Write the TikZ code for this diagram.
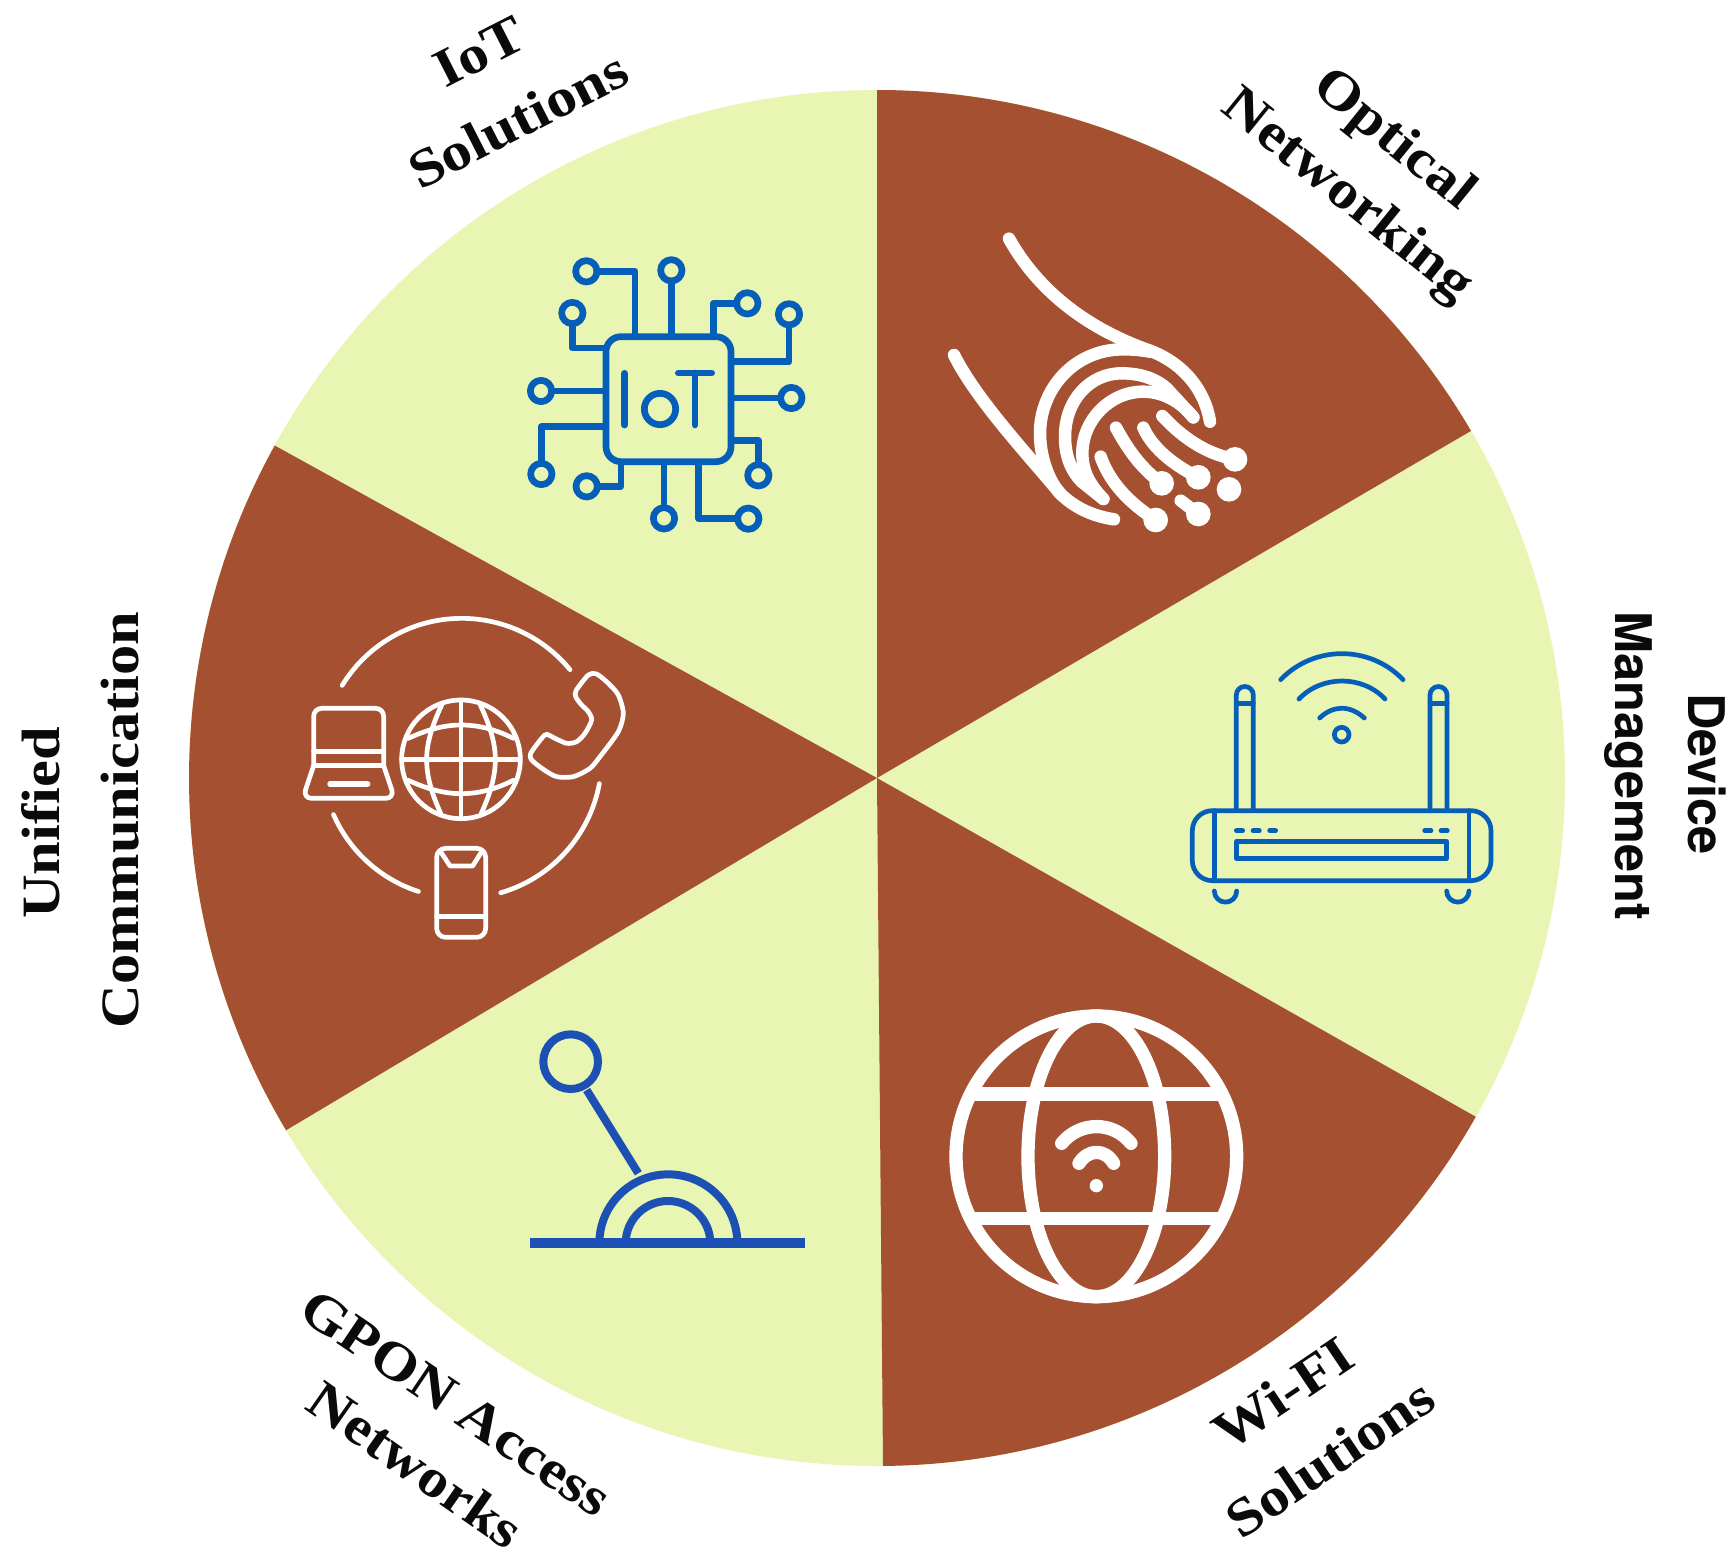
\documentclass[tikz,border=0pt]{standalone}
\usepackage{fontspec}
\newfontfamily\serifb[FakeStretch=1.12]{Liberation Serif}
\newfontfamily\sansm{TeX Gyre Heros}
\definecolor{brownw}{HTML}{A45031}
\definecolor{greenw}{HTML}{E8F5B3}
\definecolor{iconblue}{HTML}{055FB9}
\definecolor{gponblue}{HTML}{1C50B4}
\definecolor{inkb}{HTML}{0A0A0A}
\tikzset{
  lab/.style={text=inkb,inner sep=0pt,font=\serifb\bfseries\fontsize{54}{60}\selectfont},
  labsans/.style={text=inkb,inner sep=0pt,font=\sansm\bfseries\fontsize{50.5}{58}\selectfont},
  wedgeb/.style={fill=brownw,draw=none},
  ico/.style={line cap=round,line join=round},
  zoomed/.style={scale=0.33333},
}
\begin{document}
\begin{tikzpicture}[x=1pt,y=1pt,yscale=-1]
\useasboundingbox (0,0) rectangle (1735,1558);
\fill[white] (0,0) rectangle (1735,1558);
% disc
\fill[greenw] (877,778) circle[radius=688];
\fill[wedgeb] (877,778) -- ++(-90:688) arc[start angle=-90,end angle=-30.3,radius=688] -- cycle;
\fill[wedgeb] (877,778) -- ++(29.5:688) arc[start angle=29.5,end angle=89.5,radius=688] -- cycle;
\fill[wedgeb] (877,778) -- ++(149.2:688) arc[start angle=149.2,end angle=208.9,radius=688] -- cycle;
% labels
\node[lab,rotate=-39] (lopt) at (1393,141) {Optical};
\node[lab,rotate=-39] (lnet) at (1346,197) {Networking};
\node[labsans,rotate=-90] (ldev) at (1707,774) {Device};
\node[labsans,rotate=-90] (lman) at (1628,766) {Management};
\node[lab,rotate=34] (lwifi) at (1283,1393) {Wi-FI};
\node[lab,rotate=34] (lsol) at (1330,1458) {Solutions};
\node[lab,rotate=-34] (lgpon) at (456,1403) {GPON Access};
\node[lab,rotate=-35] (lnets) at (416,1465) {Networks};
\node[lab,rotate=90] (luni) at (41,823) {Unified};
\node[lab,rotate=90] (lcom) at (120,820) {Communication};
\node[lab,rotate=27] (liot) at (480,52) {IoT};
\node[lab,rotate=27] (lsol2) at (518,120) {Solutions};
% IoT icon
\begin{scope}[shift={(480,200)},zoomed,ico,draw=iconblue,line width=6.7pt]
\draw[rounded corners=15pt] (378,410) rectangle (753,785);
\foreach \x/\y in {319/214,574/211,802/310,927/343,934/594,835/826,805/956,552/955,320/859,184/822,183/573,277/339}
  \draw (\x,\y) circle[radius=32];
\draw (350,214) -- (465,214) -- (465,405);
\draw (574,243) -- (574,405);
\draw (770,310) -- (700,310) -- (700,405);
\draw (927,375) -- (927,485) -- (755,485);
\draw (902,594) -- (755,594);
\draw (835,794) -- (835,722) -- (755,722);
\draw (773,956) -- (656,956) -- (656,790);
\draw (552,923) -- (552,790);
\draw (352,859) -- (423,859) -- (423,790);
\draw (184,790) -- (184,680) -- (375,680);
\draw (215,573) -- (375,573);
\draw (277,371) -- (277,444) -- (375,444);
\draw (434,520) -- (434,675);
\draw (540,627) circle[radius=47];
\draw (595,519) -- (695,519);
\draw (645,519) -- (645,675);
\end{scope}
% fibre icon
\begin{scope}[shift={(900,200)},zoomed,ico,draw=white,line width=12.5pt]
\draw (327,116) .. controls (430,300) and (600,400) .. (750,452) .. controls (850,490) and (915,570) .. (930,665);
\draw (162,465) .. controls (230,600) and (380,760) .. (480,880) .. controls (530,930) and (590,950) .. (642,958);
\draw (750,455) .. controls (720,450) and (700,448) .. (670,448) .. controls (520,448) and (420,570) .. (420,700) .. controls (420,770) and (445,840) .. (480,880);
\draw (880,652) -- (800,565) .. controls (760,530) and (710,520) .. (665,520) .. controls (570,520) and (495,600) .. (495,710) .. controls (495,770) and (515,815) .. (545,845) -- (610,897);
\draw (880,652) .. controls (830,590) and (770,575) .. (730,575) .. controls (630,575) and (547,660) .. (547,760) .. controls (547,820) and (575,860) .. (610,897);
\draw (787,648) .. controls (840,705) and (910,760) .. (1005,778);
\draw (730,683) .. controls (760,750) and (830,800) .. (895,832);
\draw (648,683) .. controls (690,760) and (730,810) .. (785,850);
\draw (602,770) .. controls (630,850) and (690,910) .. (767,960);
\draw (842,902) -- (895,942);
\foreach \x/\y in {1005/778,895/832,785/850,767/960,895/942,987/868}
  \fill[white] (\x,\y) circle[radius=37];
\end{scope}
% unified communication icon
\begin{scope}[shift={(280,600)},zoomed,ico,draw=white,line width=4.7pt]
\draw (545,475) ++(-148.6:420) arc[start angle=-148.6,end angle=-39.3,radius=420];
\draw (545,475) ++(156.3:420) arc[start angle=156.3,end angle=108,radius=420];
\draw (545,475) ++(73.8:420) arc[start angle=73.8,end angle=10.4,radius=420];
% laptop
\draw[rounded corners=8pt] (101,497) -- (101,325) -- (311,325) -- (311,497);
\draw (101,455) -- (311,455);
\draw (101,497) -- (311,497);
\draw[rounded corners=9pt] (101,497) -- (68,595) -- (344,595) -- (311,497);
\draw[line width=5.5pt] (150,552) -- (263,552);
% globe
\draw (543,478) circle[radius=178];
\draw (543,300) -- (543,655);
\draw (365,478) -- (720,478);
\draw (485,315) .. controls (455,380) and (440,430) .. (440,478) .. controls (440,530) and (455,580) .. (482,640);
\draw (601,315) .. controls (631,380) and (646,430) .. (646,478) .. controls (646,530) and (631,580) .. (604,640);
\draw (385,415) .. controls (450,385) and (500,375) .. (543,375) .. controls (590,375) and (640,385) .. (700,415);
\draw (385,541) .. controls (450,571) and (500,581) .. (543,581) .. controls (590,581) and (640,571) .. (700,541);
% handset
\draw plot[smooth cycle,tension=0.45] coordinates {(925,225) (888,272) (888,292) (905,315) (925,335) (935,360) (915,400) (890,425) (860,430) (825,415) (800,403) (785,415) (752,460) (755,480) (790,508) (830,530) (880,530) (930,505) (960,470) (1015,395) (1030,340) (1015,285) (985,250) (950,222)};
% phone
\draw[rounded corners=9pt] (470,745) rectangle (617,1012);
\draw (470,950) -- (617,950);
\draw (482,755) -- (510,798) -- (578,798) -- (605,755);
\end{scope}
% router icon
\begin{scope}[shift={(1170,630)},zoomed,ico,draw=iconblue,line width=4.7pt]
\draw[rounded corners=20pt] (67,542) rectangle (963,752);
\draw (133,542) -- (133,752);
\draw (897,542) -- (897,752);
\draw (199,635) rectangle (830,685);
\draw (199,542) -- (199,195) arc[start angle=180,end angle=360,radius=25.5] -- (250,542);
\draw (199,220) -- (250,220);
\draw (780,542) -- (780,195) arc[start angle=180,end angle=360,radius=25.5] -- (831,542);
\draw (780,220) -- (831,220);
\foreach \a/\b in {199/218,249/268,299/317,764/783,813/832}
  \draw (\a,602) -- (\b,602);
\draw (133,783) arc[start angle=180,end angle=0,radius=33.5];
\draw (830,783) arc[start angle=180,end angle=0,radius=33.5];
\draw (515,314) circle[radius=22];
\draw (449,264) .. controls (490,225) and (540,225) .. (583,264);
\draw (387,207) .. controls (455,135) and (577,135) .. (645,207);
\draw (332,149) .. controls (432,45) and (600,45) .. (699,149);
\end{scope}
% GPON icon
\begin{scope}[shift={(500,1010)},zoomed,draw=gponblue,line width=8pt]
\draw (212,155) circle[radius=82];
\draw (260,240) -- (415,490);
\draw (298,700) arc[start angle=180,end angle=360,radius=207];
\draw (377,700) arc[start angle=180,end angle=360,radius=127];
\draw[line width=10pt] (90,700) -- (915,700);
\end{scope}
% wifi globe icon
\begin{scope}[shift={(930,990)},zoomed,ico,draw=white,line width=13.3pt]
\draw (499,499) circle[radius=421];
\draw (499,499) ellipse[x radius=205,y radius=421];
\draw[line cap=butt] (122,312) -- (876,312);
\draw[line cap=butt] (122,686) -- (876,686);
\draw (395,460) .. controls (450,393) and (550,393) .. (603,460);
\draw (447,520) .. controls (475,476) and (525,476) .. (551,520);
\fill[white] (499,587) circle[radius=20];
\end{scope}
\end{tikzpicture}
\end{document}
